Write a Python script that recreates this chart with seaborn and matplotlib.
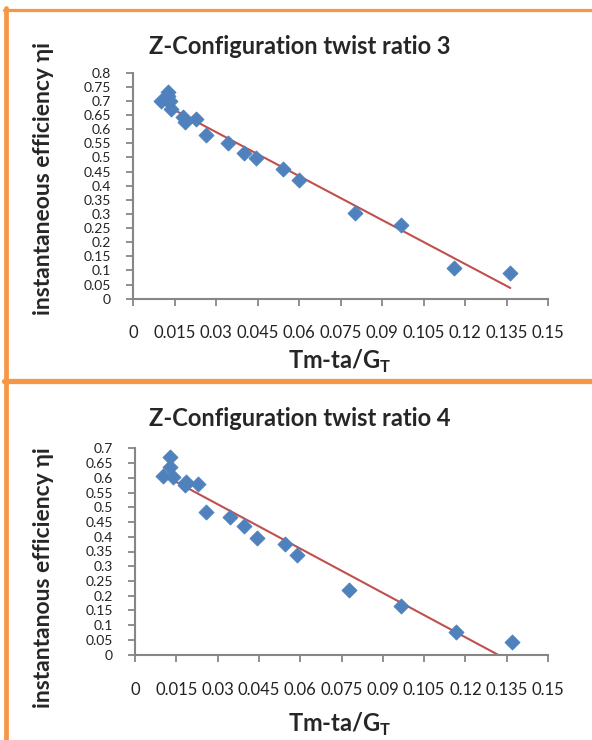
import numpy as np
import pandas as pd
import matplotlib
matplotlib.use('Agg')
import matplotlib.pyplot as plt
from matplotlib.lines import Line2D
from matplotlib.ticker import FuncFormatter
import seaborn as sns

# twist ratio 3
x_tr3 = [0.0102, 0.0126, 0.0127, 0.0132, 0.0136, 0.0181, 0.0189, 0.0229, 0.0263,
         0.0343, 0.0400, 0.0446, 0.0542, 0.0599, 0.0802, 0.0970, 0.1159, 0.1364]
y_tr3 = [0.701, 0.730, 0.718, 0.700, 0.670, 0.642, 0.627, 0.636, 0.579,
         0.552, 0.514, 0.499, 0.459, 0.420, 0.303, 0.261, 0.110, 0.092]

# twist ratio 4
x_tr4 = [0.0100, 0.0127, 0.0127, 0.0137, 0.0180, 0.0187, 0.0227, 0.0258, 0.0345,
         0.0396, 0.0442, 0.0544, 0.0590, 0.0778, 0.0965, 0.1167, 0.1368]
y_tr4 = [0.606, 0.669, 0.635, 0.602, 0.575, 0.585, 0.578, 0.485, 0.468,
         0.437, 0.396, 0.374, 0.338, 0.219, 0.165, 0.078, 0.044]

x_ticks = [0, 0.015, 0.03, 0.045, 0.06, 0.075, 0.09, 0.105, 0.12, 0.135, 0.15]

titles = ['Z-Configuration twist ratio 3', 'Z-Configuration twist ratio 4']
ylabels = ['instantaneous efficiency \u03b7i', 'instantanous efficiency \u03b7i']
y_max = [0.8, 0.7]

sns.set_style('white')
plt.rcParams['font.family'] = ['Lato', 'DejaVu Sans']
plt.rcParams['mathtext.fontset'] = 'custom'
plt.rcParams['mathtext.bf'] = 'Lato:bold'
plt.rcParams['mathtext.rm'] = 'Lato'

W, H = 592, 740
fig = plt.figure(figsize=(W / 100, H / 100), dpi=100)

# axes boxes in pixels: left, right, top, bottom
boxes = [(133, 548, 72.7, 298.7), (135, 548, 448.3, 654.7)]
title_y = [47, 418]
xlab_y = [361, 724]
xtick_pad = [14, 15]

blue = '#4F81BD'
red = '#C0504D'
grey = '#868686'


def fmt(v, pos):
    s = ('%.3f' % v).rstrip('0').rstrip('.')
    return s


data = [(x_tr3, y_tr3), (x_tr4, y_tr4)]
for i, (xs, ys) in enumerate(data):
    l, r, t, b = boxes[i]
    ax = fig.add_axes([l / W, 1 - b / H, (r - l) / W, (b - t) / H])
    df = pd.DataFrame({'x': xs, 'y': ys})
    sns.regplot(data=df, x='x', y='y', ax=ax, scatter=False, ci=None,
                line_kws={'color': red, 'lw': 1.5})
    sns.scatterplot(data=df, x='x', y='y', ax=ax, marker='D', s=60,
                    color=blue, edgecolor=blue, linewidth=0.5, zorder=3)
    ax.set_xlim(0, 0.15)
    ax.set_ylim(0, y_max[i])
    ax.set_xticks(x_ticks)
    ax.set_yticks(np.arange(0, y_max[i] + 0.001, 0.05))
    ax.xaxis.set_major_formatter(FuncFormatter(fmt))
    ax.yaxis.set_major_formatter(FuncFormatter(fmt))
    ax.tick_params(axis='both', direction='out', length=5, width=1.3,
                   color=grey, labelcolor='#222222')
    ax.tick_params(axis='x', pad=xtick_pad[i], bottom=True, labelsize=12)
    ax.tick_params(axis='y', pad=11, left=True, labelsize=10)
    for side in ['top', 'right']:
        ax.spines[side].set_visible(False)
    for side in ['left', 'bottom']:
        ax.spines[side].set_color(grey)
        ax.spines[side].set_linewidth(1.5)
    ax.set_xlabel('')
    ax.set_ylabel('')
    fig.text(300 / W, 1 - title_y[i] / H, titles[i], ha='center', va='center',
             fontsize=17, fontweight='bold')
    fig.text(340 / W, 1 - xlab_y[i] / H, r'Tm-ta/G$_{\mathbf{T}}$', ha='center',
             va='center', fontsize=17, fontweight='bold')
    cy = (47 + 310) / 2 if i == 0 else (450 + 705) / 2
    fig.text(44 / W, 1 - cy / H, ylabels[i], ha='center', va='center',
             rotation=90, fontsize=16.5, fontweight='bold')

orange = '#F79646'
fig.add_artist(Line2D([4 / W, 1], [1 - 9.5 / H, 1 - 9.5 / H], color=orange, lw=2.3))
fig.add_artist(Line2D([6 / W, 6 / W], [1 - 8 / H, 0], color=orange, lw=3.4))
fig.add_artist(Line2D([4 / W, 1], [1 - 381 / H, 1 - 381 / H], color=orange, lw=3.8))

fig.savefig('out.png', dpi=100)
